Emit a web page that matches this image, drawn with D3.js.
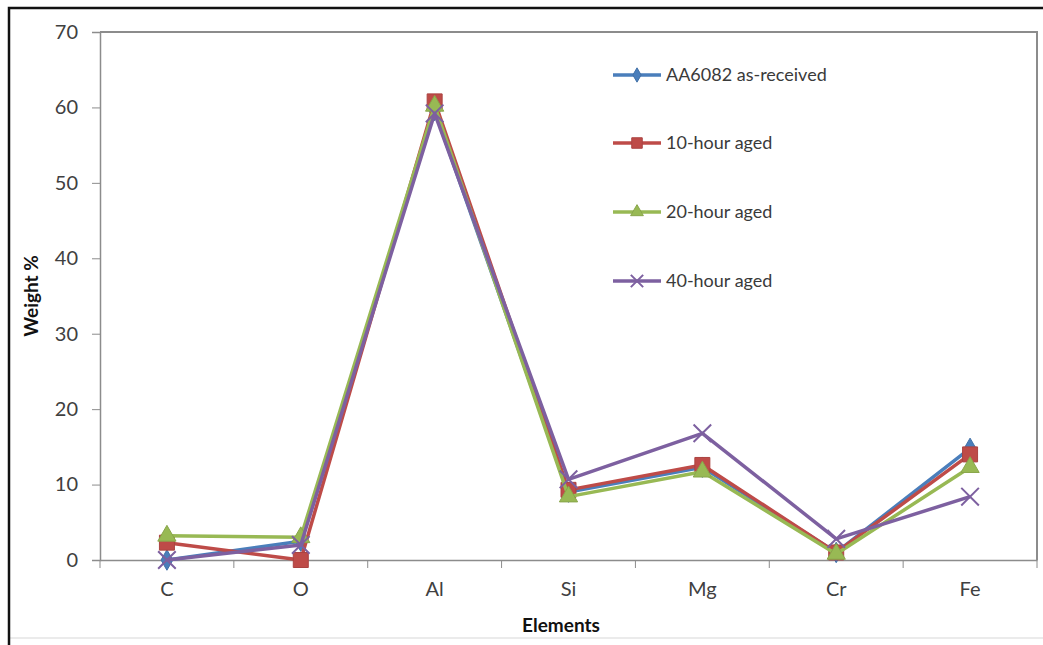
<!DOCTYPE html>
<html>
<head>
<meta charset="utf-8">
<script src="https://cdn.jsdelivr.net/npm/d3@7"></script>
<style>
  body { margin: 0; background: #fff; }
  text { font-family: Lato, "Open Sans", sans-serif; fill: #404040; }
</style>
</head>
<body>
<script>
var w = 1043;
var h = 645;

// data
var elements = ["C", "O", "Al", "Si", "Mg", "Cr", "Fe"];
var seriesNames = ["AA6082 as-received", "10-hour aged", "20-hour aged", "40-hour aged"];
var asReceived = [0, 2.5, 59.6, 9.0, 12.3, 1.0, 14.8];
var aged10 = [2.3, 0, 60.8, 9.3, 12.6, 1.0, 14.0];
var aged20 = [3.2, 3.0, 60.2, 8.4, 11.7, 0.8, 12.3];
var aged40 = [0, 2.0, 59.2, 10.7, 16.8, 2.8, 8.4];
var yTicks = [0, 10, 20, 30, 40, 50, 60, 70];

var colors = ["#4a7ebb", "#be4b48", "#98b954", "#7d60a0"];
var symbols = ["diamond", "square", "triangle", "cross"];
var allSeries = [asReceived, aged10, aged20, aged40];

var svg = d3.select("body")
    .append("svg")
    .attr("width", w)
    .attr("height", h);

// outer frame: dark left/top, faint bottom
svg.append("line")
    .attr("x1", 9).attr("x2", w).attr("y1", 638).attr("y2", 638)
    .attr("stroke", "#e4e4e4").attr("stroke-width", 1.5);
svg.append("path")
    .attr("d", "M9,645V8H" + w)
    .attr("fill", "none")
    .attr("stroke", "#111")
    .attr("stroke-width", 2.5);

var pLeft = 100, pRight = 1037, pTop = 32, pBottom = 560;

var x = d3.scaleBand()
    .domain(elements)
    .range([pLeft, pRight]);

var y = d3.scaleLinear()
    .domain([0, 70])
    .range([pBottom, pTop]);

// plot area border (top + right)
svg.append("path")
    .attr("d", "M" + pLeft + "," + pTop + "H" + pRight + "V" + pBottom)
    .attr("fill", "none")
    .attr("stroke", "#8c8c8c")
    .attr("stroke-width", 2);

// y axis
var yAxis = svg.append("g")
    .attr("transform", "translate(" + pLeft + ",0)")
    .call(d3.axisLeft(y).tickValues(yTicks).tickSize(8).tickPadding(14));
yAxis.select(".domain").attr("stroke", "#8c8c8c").attr("stroke-width", 1.5);
yAxis.selectAll(".tick line").attr("stroke", "#8c8c8c");
yAxis.selectAll("text")
    .style("font-size", "20px")
    .attr("fill", "#3a3a3a");

// x axis: ticks on band boundaries
var xAxis = svg.append("g")
    .attr("transform", "translate(0," + pBottom + ")")
    .call(d3.axisBottom(x).tickSize(0).tickPadding(22));
xAxis.select(".domain").attr("stroke", "#8c8c8c").attr("stroke-width", 1.5);
xAxis.selectAll("text")
    .style("font-size", "20px")
    .attr("fill", "#3a3a3a");
xAxis.selectAll(".boundary")
    .data(d3.range(elements.length + 1))
    .enter()
    .append("line")
    .attr("x1", i => pLeft + i * x.step())
    .attr("x2", i => pLeft + i * x.step())
    .attr("y1", 0)
    .attr("y2", 8)
    .attr("stroke", "#8c8c8c");

// axis titles
svg.append("text")
    .attr("transform", "translate(38," + (pTop + pBottom) / 2 + ") rotate(-90)")
    .attr("text-anchor", "middle")
    .style("font-size", "19px")
    .style("font-weight", "bold")
    .style("fill", "#111")
    .text("Weight %");

svg.append("text")
    .attr("x", 561)
    .attr("y", 632)
    .attr("text-anchor", "middle")
    .style("font-size", "19px")
    .style("font-weight", "bold")
    .style("fill", "#111")
    .text("Elements");

var line = d3.line()
    .x((d, i) => x(elements[i]) + x.bandwidth() / 2)
    .y(d => y(d));

function marker(g, kind, color, size) {
    if (kind == "cross") {
        var s = size * 0.55;
        g.append("path")
            .attr("d", "M" + -s + "," + -s + "L" + s + "," + s + "M" + -s + "," + s + "L" + s + "," + -s)
            .attr("stroke", color)
            .attr("stroke-width", 2);
    } else {
        var sym = kind == "diamond" ? d3.symbolDiamond : kind == "square" ? d3.symbolSquare : d3.symbolTriangle;
        g.append("path")
            .attr("d", d3.symbol().type(sym).size(size * size)())
            .attr("fill", color)
            .attr("stroke", d3.color(color).darker(0.3))
            .attr("stroke-width", 1);
    }
}

var sizes = [11, 15, 12, 16];

allSeries.forEach((vals, k) => {
    var g = svg.append("g").attr("class", "series");
    g.append("path")
        .datum(vals)
        .attr("d", line)
        .attr("fill", "none")
        .attr("stroke", colors[k])
        .attr("stroke-width", 3.5)
        .attr("stroke-linejoin", "round");
    vals.forEach((v, i) => {
        var m = g.append("g")
            .attr("transform", "translate(" + (x(elements[i]) + x.bandwidth() / 2) + "," + y(v) + ")");
        marker(m, symbols[k], colors[k], sizes[k]);
    });
});

// legend
var legendY = [75, 143, 212, 281];
seriesNames.forEach((name, k) => {
    var g = svg.append("g").attr("transform", "translate(613," + legendY[k] + ")");
    g.append("line")
        .attr("x1", 0).attr("x2", 48)
        .attr("stroke", colors[k])
        .attr("stroke-width", 3.5);
    var m = g.append("g").attr("transform", "translate(24,0)");
    marker(m, symbols[k], colors[k], sizes[k] * 0.7);
    g.append("text")
        .attr("x", 53)
        .attr("y", 6)
        .style("font-size", "18px")
        .style("fill", "#3a3a3a")
        .text(name);
});
</script>
</body>
</html>
